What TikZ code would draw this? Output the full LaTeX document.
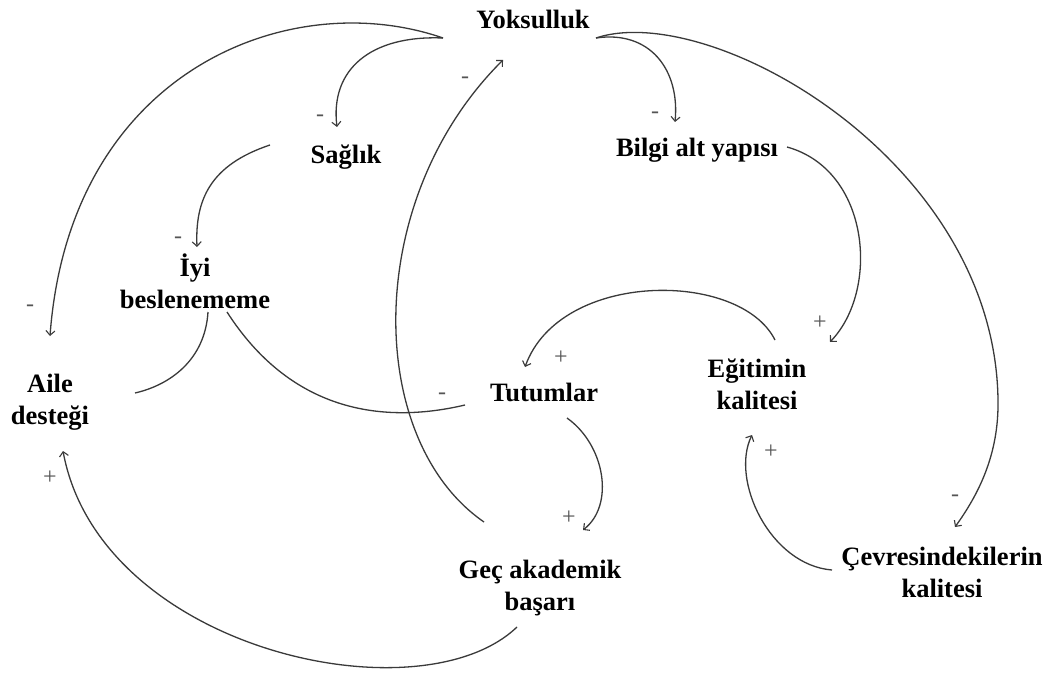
\documentclass[tikz,border=0pt]{standalone}
\usepackage{fontspec}
\setmainfont{Liberation Serif}
\usetikzlibrary{arrows.meta}
\definecolor{lnc}{HTML}{3A3A3A}
\definecolor{sgc}{HTML}{555555}
\tikzset{
  lbl/.style={font=\fontsize{26.5}{32}\selectfont\bfseries, align=center, inner sep=0pt, anchor=base, text=black},
  sgn/.style={font=\fontsize{24}{24}\selectfont, inner sep=0pt, text=sgc},
  lnk/.style={draw=lnc, line width=1.3pt, -{Straight Barb[length=4.5pt,width=9pt,line width=1.1pt]}},
  plain/.style={draw=lnc, line width=1.3pt}
}
\begin{document}
\begin{tikzpicture}[x=1pt,y=-1pt]
\useasboundingbox[fill=white] (0,0) rectangle (1063,682);
% nodes (anchor = baseline of the last line)
\node[lbl] (yok) at (533,29) {Yoksulluk};
\node[lbl] (sag) at (346,164) {Sağlık};
\node[lbl] (bil) at (697,157) {Bilgi alt yapısı};
\node[lbl] (iyi) at (195,308) {İyi\\beslenememe};
\node[lbl] (aile) at (50,424) {Aile\\desteği};
\node[lbl] (tut) at (544,401) {Tutumlar};
\node[lbl] (egi) at (757,409) {Eğitimin\\kalitesi};
\node[lbl] (gec) at (540,610) {Geç akademik\\başarı};
\node[lbl] (cev) at (942,597) {Çevresindekilerin\\kalitesi};
% connector ends
\coordinate (yokL) at (443,38);
\coordinate (yokR) at (596,38);
\coordinate (sagIn) at (337,127);
\coordinate (sagOut) at (270,145);
\coordinate (iyiIn) at (197,247);
\coordinate (iyiOutL) at (208,312);
\coordinate (iyiOutR) at (227,312);
\coordinate (aileIn) at (50,336);
\coordinate (aileInB) at (63,451);
\coordinate (aileEnd) at (135,393);
\coordinate (tutEnd) at (465,405);
\coordinate (tutIn) at (525,367);
\coordinate (tutOut) at (567,418);
\coordinate (gecUp) at (484,522);
\coordinate (gecIn) at (583,530);
\coordinate (gecOut) at (517,627);
\coordinate (yokIn) at (503,60);
\coordinate (bilIn) at (675,122);
\coordinate (bilOut) at (787,147);
\coordinate (egiIn) at (830,342);
\coordinate (egiOut) at (775,340);
\coordinate (egiInB) at (752,435);
\coordinate (cevOut) at (832,570);
\coordinate (cevIn) at (955,527);
% connectors
\draw[lnk] (yokL) .. controls (290,-15) and (70,70) .. (aileIn);
\draw[lnk] (yokL) .. controls (370,35) and (330,70) .. (sagIn);
\draw[lnk] (sagOut) .. controls (210,165) and (195,200) .. (iyiIn);
\draw[plain] (iyiOutL) .. controls (205,360) and (170,385) .. (aileEnd);
\draw[plain] (iyiOutR) .. controls (290,410) and (380,425) .. (tutEnd);
\draw[lnk] (gecUp) .. controls (365,440) and (362,200) .. (yokIn);
\draw[lnk] (yokR) .. controls (650,30) and (680,70) .. (bilIn);
\draw[lnk] (yokR) .. controls (710,0) and (995,160) .. (998,400) .. controls (999,455) and (978,495) .. (cevIn);
\draw[lnk] (bilOut) .. controls (870,170) and (880,290) .. (egiIn);
\draw[lnk] (egiOut) .. controls (740,270) and (560,270) .. (tutIn);
\draw[lnk] (tutOut) .. controls (605,445) and (615,505) .. (gecIn);
\draw[lnk] (cevOut) .. controls (770,565) and (730,480) .. (egiInB);
\draw[lnk] (gecOut) .. controls (420,720) and (100,650) .. (aileInB);
% signs
\node[sgn] (s1) at (30,308) {-};
\node[sgn] (s2) at (320,118) {-};
\node[sgn] (s3) at (178,240) {-};
\node[sgn] (s4) at (442,396) {-};
\node[sgn] (s5) at (465,80) {-};
\node[sgn] (s6) at (655,115) {-};
\node[sgn] (s7) at (955,498) {-};
\node[sgn] (p1) at (820,323) {+};
\node[sgn] (p2) at (561,358) {+};
\node[sgn] (p3) at (569,518) {+};
\node[sgn] (p4) at (771,452) {+};
\node[sgn] (p5) at (50,478) {+};
\end{tikzpicture}
\end{document}
